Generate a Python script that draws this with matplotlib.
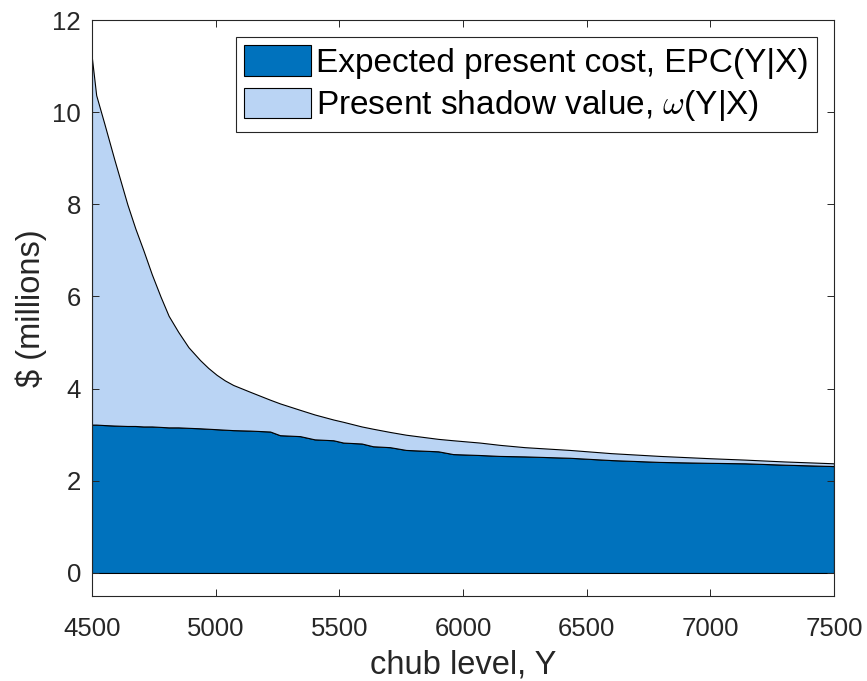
import numpy as np
import matplotlib
matplotlib.use("Agg")
import matplotlib.pyplot as plt

# ─── Data ─────────────────────────────────────────────────────────────────────

chub_level = [4500, 4517, 4550, 4590, 4643, 4675, 4708, 4742, 4777, 4810,
              4849, 4890, 4937, 4970, 5004, 5037, 5071, 5140, 5220, 5260,
              5341, 5400, 5476, 5516, 5590, 5636, 5705, 5770, 5900, 5960,
              6068, 6149, 6250, 6432, 6600, 6796, 7000, 7140, 7300, 7500]

# expected present cost, EPC(Y|X), $ millions
epc = [3.22, 3.22, 3.21, 3.20, 3.19, 3.19, 3.18, 3.18, 3.17, 3.16,
       3.16, 3.15, 3.14, 3.13, 3.12, 3.11, 3.10, 3.09, 3.07, 2.99,
       2.97, 2.90, 2.88, 2.83, 2.81, 2.75, 2.73, 2.67, 2.64, 2.58,
       2.56, 2.54, 2.53, 2.50, 2.45, 2.41, 2.39, 2.38, 2.35, 2.32]

# present shadow value, omega(Y|X), $ millions (stacked on EPC)
omega = [7.94, 7.15, 6.54, 5.78, 4.81, 4.29, 3.82, 3.30, 2.83, 2.42,
         2.07, 1.75, 1.48, 1.32, 1.18, 1.07, 0.98, 0.84, 0.69, 0.69,
         0.57, 0.54, 0.45, 0.45, 0.37, 0.38, 0.33, 0.33, 0.27, 0.30,
         0.27, 0.24, 0.20, 0.17, 0.15, 0.13, 0.10, 0.08, 0.07, 0.06]

labels = ["Expected present cost, EPC(Y|X)",
          r"Present shadow value, $\omega$(Y|X)"]

x_ticks = [4500, 5000, 5500, 6000, 6500, 7000, 7500]
y_ticks = [0, 2, 4, 6, 8, 10, 12]

DARK = "#0072BD"
LIGHT = "#BAD4F4"
AX_COL = "#262626"

plt.rcParams.update({
    "font.family": ["Liberation Sans", "DejaVu Sans"],
    "mathtext.fontset": "cm",
    "axes.edgecolor": AX_COL,
    "axes.linewidth": 0.8,
    "xtick.color": AX_COL,
    "ytick.color": AX_COL,
})

fig = plt.figure(figsize=(8.67, 6.81), dpi=100)
ax = fig.add_axes([0.1061, 0.1248, 0.8558, 0.8458])

ax.stackplot(chub_level, epc, omega, colors=[DARK, LIGHT],
             edgecolor="black", linewidth=0.8, labels=labels)

ax.set_xlim(4500, 7500)
ax.set_ylim(-0.5, 12)
ax.set_xticks(x_ticks)
ax.set_yticks(y_ticks)
ax.tick_params(direction="in", length=5, width=0.7, top=True, right=True,
               labelsize=18.5)
ax.tick_params(axis="x", pad=15)
ax.tick_params(axis="y", pad=8)
ax.set_xlabel("chub level, Y", fontsize=23.5, color=AX_COL, labelpad=6)
ax.set_ylabel("$ (millions)", fontsize=23.5, color=AX_COL, labelpad=4)

leg = ax.legend(loc="upper right", bbox_to_anchor=(0.977, 0.9705),
                borderaxespad=0, fontsize=24, handlelength=2.0,
                handleheight=1.05, handletextpad=0.15, labelspacing=0.25,
                borderpad=0.25, fancybox=False, framealpha=1)
leg.get_frame().set_edgecolor(AX_COL)
leg.get_frame().set_linewidth(0.8)

fig.savefig("out.png", dpi=100)
